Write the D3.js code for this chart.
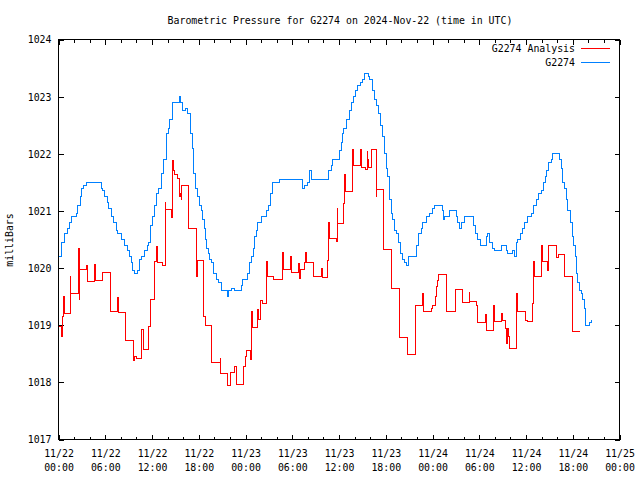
<!DOCTYPE html>
<html><head><meta charset="utf-8">
<script src="https://cdn.jsdelivr.net/npm/d3@7"></script>
<style>
body{margin:0;background:#fff}
svg{display:block}
text{font-family:"DejaVu Sans Mono","Liberation Mono",monospace;font-size:9.9px;fill:#000}
</style>
</head><body>
<svg id="chart" width="640" height="480"></svg>
<script>
// ---- data (hours after 2024-11-22 00:00 UTC, pressure in milliBars) ----
const blueTime = [0,0.35,0.42,0.77,1.12,1.41,1.71,2.27,2.40,2.82,2.91,3.25,3.56,5.48,5.69,5.90,6.25,6.42,6.76,7.10,7.41,7.61,8.05,8.47,8.82,9.11,9.41,9.54,9.75,10.10,10.40,10.69,11.04,11.38,11.55,11.81,12.10,12.32,12.54,12.83,13.18,13.48,13.82,14.12,14.25,14.59,14.67,15.53,15.66,15.95,16.30,16.59,16.90,17.16,17.33,17.58,17.88,18.10,18.31,18.44,18.70,18.87,19.03,19.21,19.38,19.64,19.89,20.24,20.57,20.88,21.73,21.88,22.16,22.59,23.45,23.65,24.30,24.51,24.81,25.03,25.19,25.37,25.58,26.01,26.66,26.95,27.21,27.50,28.36,31.35,31.57,32.00,32.21,32.43,34.69,35.00,35.20,36.06,36.28,36.49,36.62,36.92,37.35,37.64,37.90,38.12,38.41,38.72,39.05,39.27,39.79,39.91,40.34,40.56,40.85,41.11,41.29,41.54,41.84,42.06,42.26,42.48,42.70,42.90,43.12,43.42,43.67,43.85,44.11,44.41,44.70,44.96,45.98,46.24,46.55,46.75,47.19,47.61,48.04,48.26,49.24,49.41,49.54,50.18,51.04,51.25,51.46,51.68,52.11,53.26,53.52,53.81,54.12,54.89,55.10,55.32,55.66,55.96,56.82,57.54,57.66,58.31,58.52,58.74,58.95,59.26,59.59,59.81,60.23,60.67,60.96,61.31,61.64,61.95,62.25,62.46,62.67,62.93,63.23,63.44,64.30,64.52,64.72,64.94,65.16,65.36,65.67,65.93,66.10,66.31,66.44,66.65,66.86,67.08,67.28,67.51,67.64,68.15,68.37];
const bluePressure = [1020.2,1020.3,1020.45,1020.6,1020.7,1020.8,1020.9,1020.95,1021.1,1021.25,1021.4,1021.45,1021.5,1021.4,1021.35,1021.25,1021.15,1021.05,1020.9,1020.8,1020.65,1020.6,1020.5,1020.4,1020.3,1020.2,1020.1,1019.95,1019.9,1019.95,1020.15,1020.2,1020.3,1020.4,1020.45,1020.75,1020.9,1021.1,1021.3,1021.4,1021.65,1021.9,1022.35,1022.45,1022.6,1022.85,1022.9,1023.0,1022.9,1022.75,1022.8,1022.7,1022.35,1022.1,1021.65,1021.4,1021.25,1021.1,1021.0,1020.85,1020.7,1020.5,1020.35,1020.25,1020.15,1020.1,1019.9,1019.8,1019.75,1019.6,1019.5,1019.6,1019.65,1019.6,1019.7,1019.8,1019.9,1020.1,1020.2,1020.35,1020.55,1020.65,1020.8,1020.9,1021.0,1021.1,1021.3,1021.5,1021.55,1021.4,1021.45,1021.5,1021.7,1021.55,1021.7,1021.8,1021.9,1022.05,1022.2,1022.35,1022.45,1022.6,1022.75,1022.9,1023.0,1023.1,1023.2,1023.25,1023.3,1023.4,1023.35,1023.3,1023.1,1022.95,1022.85,1022.7,1022.5,1022.3,1022.0,1021.75,1021.6,1021.2,1020.95,1020.85,1020.65,1020.6,1020.45,1020.25,1020.15,1020.1,1020.05,1020.2,1020.4,1020.6,1020.7,1020.8,1020.9,1020.95,1021.05,1021.1,1021.0,1020.85,1020.9,1021.0,1020.9,1020.8,1020.7,1020.8,1020.9,1020.75,1020.6,1020.5,1020.4,1020.55,1020.6,1020.45,1020.35,1020.3,1020.4,1020.3,1020.25,1020.3,1020.2,1020.45,1020.5,1020.6,1020.7,1020.8,1020.9,1020.95,1021.1,1021.2,1021.3,1021.35,1021.5,1021.6,1021.7,1021.85,1021.9,1022.0,1021.9,1021.75,1021.5,1021.4,1021.2,1021.0,1020.8,1020.55,1020.4,1020.2,1019.9,1019.75,1019.6,1019.55,1019.45,1019.3,1019.0,1019.05,1019.1];
const redTime = [0,0.35,0.42,0.55,0.68,0.72,1.54,1.60,2.61,2.65,2.70,3.59,3.76,4.62,4.71,5.71,6.61,6.67,7.61,7.68,8.60,9.62,9.75,9.97,10.69,10.95,11.59,11.81,12.32,12.62,12.68,13.39,13.73,13.77,14.46,14.59,14.67,14.76,14.89,15.31,15.53,15.66,15.75,15.83,16.69,17.75,17.81,18.65,18.87,19.67,20.75,20.81,21.73,22.04,22.59,22.81,23.78,24.00,24.09,24.60,24.73,24.86,25.58,25.71,25.88,26.14,26.73,26.86,27.59,28.71,28.79,28.88,29.74,29.87,30.84,30.93,31.06,31.57,31.70,31.79,32.73,33.71,33.84,34.56,34.69,34.78,35.64,35.77,35.85,36.58,36.70,36.83,37.69,37.78,37.87,38.72,38.85,39.40,39.62,39.70,39.83,40.13,40.77,40.85,41.75,42.78,43.76,44.83,45.78,46.75,46.84,47.83,48.04,48.38,48.47,48.68,48.81,49.80,50.91,51.81,52.75,52.81,53.69,53.81,54.80,54.93,55.83,55.96,56.82,56.95,57.37,57.46,57.54,57.66,57.79,57.88,58.74,58.82,58.95,59.90,60.23,60.88,60.96,61.09,61.95,62.08,62.80,62.88,63.87,64.20,64.94,66.01,66.87];
const redPressure = [1018.97,1018.95,1018.8,1019.15,1019.5,1019.2,1019.85,1019.55,1020.35,1019.45,1019.98,1020.05,1019.76,1020.07,1019.78,1019.92,1019.7,1019.24,1019.49,1019.22,1018.73,1018.38,1018.46,1018.42,1018.93,1018.58,1018.98,1019.45,1020.11,1020.37,1020.1,1020.04,1021.15,1021.02,1020.89,1021.4,1021.89,1021.7,1021.63,1021.57,1021.25,1021.3,1021.2,1021.44,1020.7,1019.86,1020.13,1019.15,1019.0,1018.35,1018.42,1018.15,1017.95,1018.17,1018.27,1017.97,1018.27,1018.45,1018.55,1018.4,1019.24,1018.96,1019.28,1019.1,1019.44,1019.38,1020.11,1019.85,1019.8,1019.97,1020.27,1019.97,1020.21,1019.92,1020.08,1019.82,1019.97,1020.1,1020.27,1020.1,1019.85,1020.0,1019.84,1020.14,1020.8,1020.52,1020.47,1021.05,1020.78,1021.13,1021.63,1021.34,1021.66,1022.07,1021.8,1022.07,1021.76,1021.73,1022.04,1021.9,1021.76,1022.07,1021.25,1021.38,1020.33,1019.65,1018.79,1018.48,1019.35,1019.55,1019.24,1019.3,1019.35,1019.5,1019.67,1019.79,1019.88,1019.24,1019.63,1019.4,1019.57,1019.42,1019.34,1019.04,1019.18,1018.9,1019.35,1019.06,1019.2,1019.09,1018.95,1018.8,1018.68,1018.95,1018.8,1018.6,1019.06,1019.55,1019.24,1019.09,1019.06,1019.38,1020.11,1019.85,1020.4,1020.11,1019.95,1020.4,1020.19,1020.23,1019.85,1018.89,1018.89];
const yTicks = [1017,1018,1019,1020,1021,1022,1023,1024];
const xDateLabels = ["11/22","11/22","11/22","11/22","11/23","11/23","11/23","11/23","11/24","11/24","11/24","11/24","11/25"];
const xTimeLabels = ["00:00","06:00","12:00","18:00","00:00","06:00","12:00","18:00","00:00","06:00","12:00","18:00","00:00"];
const seriesNames = ["G2274 Analysis","G2274"];
const seriesColors = ["#ff0000","#0080ff"];
const titleText = "Barometric Pressure for G2274 on 2024-Nov-22 (time in UTC)";
const yLabel = "milliBars";

// ---- layout ----
const svg = d3.select("#chart");
const L = 58.5, R = 619.5, T = 39.5, B = 439.5;
const t0 = new Date(Date.UTC(2024,10,22,0,0));
const t1 = new Date(Date.UTC(2024,10,25,0,0));
const hourToDate = h => new Date(t0.getTime() + h*3600000);
const x = d3.scaleUtc().domain([t0,t1]).range([L,R]);
const y = d3.scaleLinear().domain([1017,1024]).range([B,T]);

const majorX = d3.utcHour.every(6).range(t0, new Date(t1.getTime()+1));
const minorX = d3.utcHour.every(2).range(t0, new Date(t1.getTime()+1)).filter(d => d.getUTCHours()%6 !== 0);

function styleAxis(g){
  g.select(".domain").remove();
  g.selectAll(".tick line").attr("stroke","#000").attr("shape-rendering","crispEdges");
}

// minor ticks (bottom/top)
svg.append("g").attr("transform",`translate(0,${B})`)
  .call(d3.axisBottom(x).tickValues(minorX).tickSize(-3).tickFormat("")).call(styleAxis);
svg.append("g").attr("transform",`translate(0,${T})`)
  .call(d3.axisTop(x).tickValues(minorX).tickSize(-3).tickFormat("")).call(styleAxis);
// major ticks top
svg.append("g").attr("transform",`translate(0,${T})`)
  .call(d3.axisTop(x).tickValues(majorX).tickSize(-5).tickFormat("")).call(styleAxis);
// major bottom with two-line labels
const gx = svg.append("g").attr("transform",`translate(0,${B})`)
  .call(d3.axisBottom(x).tickValues(majorX).tickSize(-5).tickFormat(""));
styleAxis(gx);
gx.selectAll(".tick").each(function(d,i){
  const t = d3.select(this).select("text");
  t.attr("y",null).attr("dy",null).attr("text-anchor","middle").attr("fill","#000");
  t.append("tspan").attr("x",0).attr("y",17.5).text(xDateLabels[i]);
  t.append("tspan").attr("x",0).attr("y",31.5).text(xTimeLabels[i]);
});

// y axes
const gy = svg.append("g").attr("transform",`translate(${L},0)`)
  .call(d3.axisLeft(y).tickValues(yTicks).tickSize(-5).tickPadding(7).tickFormat(d3.format("d")));
styleAxis(gy);
gy.selectAll(".tick text").attr("fill","#000").attr("dy","0.35em");
svg.append("g").attr("transform",`translate(${R},0)`)
  .call(d3.axisRight(y).tickValues(yTicks).tickSize(-5).tickFormat("")).call(styleAxis);
svg.selectAll("g").attr("font-family",null).attr("font-size",null);

// frame
svg.append("rect").attr("x",L).attr("y",T).attr("width",R-L).attr("height",B-T)
  .attr("fill","none").attr("stroke","#000").attr("shape-rendering","crispEdges");

// lines
const line = d3.line().x(d => x(hourToDate(d[0]))).y(d => y(d[1])).curve(d3.curveStepAfter);
const redData = redTime.map((t,i) => [t, redPressure[i]]);
const blueData = blueTime.map((t,i) => [t, bluePressure[i]]);
svg.append("path").datum(redData).attr("d",line).attr("fill","none")
  .attr("stroke",seriesColors[0]).attr("stroke-width",1).attr("shape-rendering","crispEdges");
svg.append("path").datum(blueData).attr("d",line).attr("fill","none")
  .attr("stroke",seriesColors[1]).attr("stroke-width",1).attr("shape-rendering","crispEdges");

// title and y label
svg.append("text").attr("x",(L+R)/2+1).attr("y",23.5).attr("text-anchor","middle").text(titleText);
svg.append("text").attr("transform","translate(13,240) rotate(-90)").attr("text-anchor","middle").text(yLabel);

// legend
seriesNames.forEach((name,i) => {
  const ly = 48.5 + i*14;
  svg.append("text").attr("x",575).attr("y",ly+3.5).attr("text-anchor","end").text(name);
  svg.append("line").attr("x1",581).attr("x2",610).attr("y1",ly).attr("y2",ly)
    .attr("stroke",seriesColors[i]).attr("stroke-width",1).attr("shape-rendering","crispEdges");
});
</script>
</body></html>
